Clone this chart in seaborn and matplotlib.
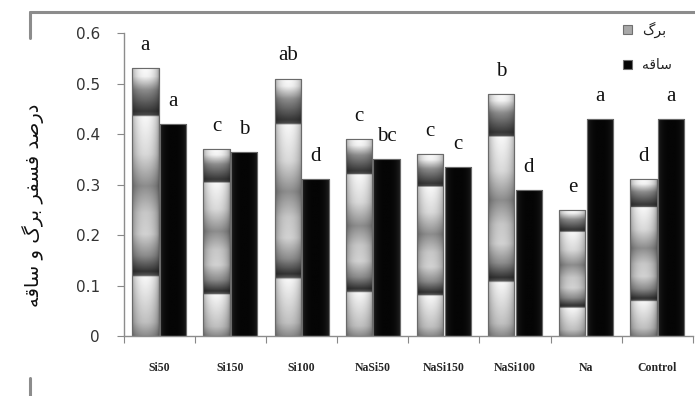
import numpy as np
import pandas as pd
import matplotlib
matplotlib.use('Agg')
import matplotlib.pyplot as plt
from matplotlib.lines import Line2D
from matplotlib.ticker import FixedLocator
import seaborn as sns

# values
treatments = ['Si50', 'Si150', 'Si100', 'NaSi50', 'NaSi150', 'NaSi100', 'Na', 'Control']
leaf = [0.53, 0.37, 0.51, 0.39, 0.36, 0.48, 0.25, 0.31]
stem = [0.42, 0.365, 0.31, 0.35, 0.335, 0.29, 0.43, 0.43]
leaf_letters = ['a', 'c', 'ab', 'c', 'c', 'b', 'e', 'd']
stem_letters = ['a', 'b', 'd', 'bc', 'c', 'd', 'a', 'a']
leaf_name = 'برگ'
stem_name = 'ساقه'
y_title = 'درصد فسفر برگ و ساقه'
y_ticks = [0, 0.1, 0.2, 0.3, 0.4, 0.5, 0.6]
y_tick_labels = ['0', '0.1', '0.2', '0.3', '0.4', '0.5', '0.6']

# matplotlib has no arabic shaping, so pick contextual forms by hand
FORMS = {
    'ا': ('\uFE8D', '\uFE8E', None, None),
    'ب': ('\uFE8F', '\uFE90', '\uFE91', '\uFE92'),
    'د': ('\uFEA9', '\uFEAA', None, None),
    'ر': ('\uFEAD', '\uFEAE', None, None),
    'س': ('\uFEB1', '\uFEB2', '\uFEB3', '\uFEB4'),
    'ص': ('\uFEB9', '\uFEBA', '\uFEBB', '\uFEBC'),
    'ف': ('\uFED1', '\uFED2', '\uFED3', '\uFED4'),
    'ق': ('\uFED5', '\uFED6', '\uFED7', '\uFED8'),
    'ه': ('\uFEE9', '\uFEEA', '\uFEEB', '\uFEEC'),
    'و': ('\uFEED', '\uFEEE', None, None),
    'گ': ('\uFB92', '\uFB93', '\uFB94', '\uFB95'),
}


def shape(text):
    out = []
    for i, c in enumerate(text):
        if c not in FORMS:
            out.append(c)
            continue
        prev = text[i - 1] if i > 0 else ''
        nxt = text[i + 1] if i + 1 < len(text) else ''
        join_prev = prev in FORMS and FORMS[prev][2] is not None
        join_next = FORMS[c][2] is not None and nxt in FORMS
        iso, fin, ini, med = FORMS[c]
        if join_prev and join_next:
            out.append(med)
        elif join_prev:
            out.append(fin)
        elif join_next:
            out.append(ini)
        else:
            out.append(iso)
    return ''.join(reversed(out))


df = pd.DataFrame({
    'treatment': treatments * 2,
    'value': leaf + stem,
    'part': [shape(leaf_name)] * len(treatments) + [shape(stem_name)] * len(treatments),
})

sns.set_style('white')
plt.rcParams['font.family'] = ['DejaVu Sans']

fig = plt.figure(figsize=(6.95, 3.96), dpi=100)
ax = fig.add_axes([0.178, 0.1515, 0.819, 0.765])

sns.barplot(data=df, x='treatment', y='value', hue='part', order=treatments,
            palette=['#a8a8a8', '#050505'], width=0.78, gap=0.05,
            edgecolor='#707070', linewidth=0.8, errorbar=None, ax=ax)

# metallic shading for the bars
f = np.linspace(0, 1, 300)
v_leaf = np.interp(f, [0, 0.05, 0.22, 0.225, 0.24, 0.30, 0.38, 0.46, 0.56, 0.68, 0.82, 0.825, 0.84, 0.92, 0.97, 1.0],
                   [0.55, 0.75, 0.97, 0.35, 0.2, 0.55, 0.82, 0.78, 0.55, 0.85, 0.97, 0.3, 0.22, 0.55, 0.95, 0.98])
h = np.linspace(-1, 1, 60)
h_leaf = 0.62 + 0.38 * (1 - h ** 2) ** 0.6
img_leaf = np.outer(v_leaf, h_leaf)
h_stem = 0.02 + 0.10 * np.abs(h) ** 3
v_stem = np.ones_like(f)
img_stem = np.outer(v_stem, h_stem)

for container, img in zip(ax.containers, [img_leaf, img_stem]):
    for bar in container:
        x0, w, hgt = bar.get_x(), bar.get_width(), bar.get_height()
        im = ax.imshow(img, extent=[x0, x0 + w, 0, hgt], origin='lower', aspect='auto',
                       cmap='gray', vmin=0, vmax=1, zorder=bar.get_zorder() + 0.1,
                       interpolation='bilinear')
        im.set_clip_path(bar)
        edge = plt.Rectangle((x0, 0), w, hgt, fill=False, edgecolor='#6a6a6a',
                             linewidth=0.8, zorder=bar.get_zorder() + 0.2)
        ax.add_patch(edge)

# significance letters above bars
for container, letters in zip(ax.containers, [leaf_letters, stem_letters]):
    for bar, letter in zip(container, letters):
        ax.annotate(letter, (bar.get_x() + bar.get_width() / 2, bar.get_height()),
                    xytext=(0, 13), textcoords='offset points', ha='center', va='baseline',
                    fontfamily='Liberation Serif', fontsize=15, color='#111111')

ax.set_xlim(-0.5, len(treatments) - 0.5)
ax.set_ylim(0, 0.6)
ax.set_yticks(y_ticks)
ax.set_yticklabels(y_tick_labels)
ax.tick_params(axis='y', length=5, width=0.8, color='#888888', pad=12,
               labelsize=11, labelcolor='#333333', left=True)
ax.set_xticks(range(len(treatments)))
ax.set_xticklabels(treatments, fontfamily='Liberation Serif', fontweight='bold',
                   fontsize=8.5)
ax.tick_params(axis='x', length=0, pad=19)
ax.xaxis.set_minor_locator(FixedLocator(np.arange(-0.5, len(treatments), 1)))
ax.tick_params(axis='x', which='minor', length=5, width=0.8, color='#888888', bottom=True)

ax.set_xlabel('')
ax.set_ylabel(shape(y_title), fontsize=14, color='#111111')
ax.yaxis.set_label_coords(-0.14, 0.43)

for side in ['top', 'right']:
    ax.spines[side].set_visible(False)
for side in ['left', 'bottom']:
    ax.spines[side].set_color('#8c8c8c')
    ax.spines[side].set_linewidth(1.0)

leg = ax.legend(loc='upper right', bbox_to_anchor=(0.985, 1.08), frameon=False,
                fontsize=10, handlelength=0.7, handleheight=0.7, labelspacing=1.5,
                handletextpad=0.7)
for txt in leg.get_texts():
    txt.set_color('#222222')

# remnants of the outer chart frame
frame = '#8c8c8c'
fig.add_artist(Line2D([0.043, 1.0], [0.97, 0.97], color=frame, lw=2.2, transform=fig.transFigure))
fig.add_artist(Line2D([0.043, 0.043], [0.97, 0.904], color=frame, lw=2.2, transform=fig.transFigure))
fig.add_artist(Line2D([0.043, 0.043], [0.045, 0.0], color=frame, lw=2.2, transform=fig.transFigure))

fig.savefig('out.png', dpi=100, facecolor='white')
